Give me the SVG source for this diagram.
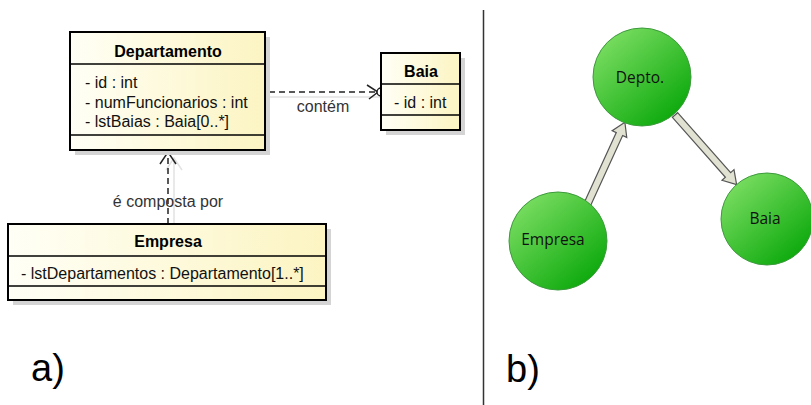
<svg xmlns="http://www.w3.org/2000/svg" width="811" height="405" viewBox="0 0 811 405">
<defs>
<linearGradient id="boxfill" x1="0" y1="0" x2="1" y2="0">
<stop offset="0" stop-color="#fffff6"/>
<stop offset="1" stop-color="#fcf4c2"/>
</linearGradient>
<linearGradient id="green" x1="0.15" y1="0.1" x2="0.85" y2="0.9">
<stop offset="0" stop-color="#78dc60"/>
<stop offset="1" stop-color="#0ca90c"/>
</linearGradient>
</defs>
<style>
.box{fill:url(#boxfill);stroke:#000;stroke-width:2}
.shadow{fill:#d4d4d4}
.sep{stroke:#000;stroke-width:1.5}
.title{font-family:"Liberation Sans",Arial,sans-serif;font-size:16px;font-weight:bold;fill:#000;text-anchor:middle}
.attr{font-family:"Liberation Sans",Arial,sans-serif;font-size:16px;fill:#111}
.lbl{font-family:"Liberation Sans",Arial,sans-serif;font-size:16px;fill:#333;text-anchor:middle}
.dash{stroke:#222;stroke-width:1.5;stroke-dasharray:6 4;fill:none}
.head{stroke:#222;stroke-width:1.5;fill:none}
.ghost{stroke:#e2e2e2;stroke-width:1.5;fill:none}
.node{fill:url(#green);stroke:#3c9a3c;stroke-width:1}
.ntext{font-family:"Open Sans","Noto Sans",sans-serif;font-size:15.5px;fill:#111;text-anchor:middle}
.barrow{fill:#e2e2d2;stroke:#555;stroke-width:1.2;stroke-linejoin:miter}
.big{font-family:"Liberation Sans",Arial,sans-serif;font-size:38px;fill:#000}
</style>
<rect width="811" height="405" fill="#fff"/>

<line x1="483.5" y1="10" x2="483.5" y2="405" stroke="#333" stroke-width="1.5"/>

<g id="connectors">
<line class="ghost" x1="270" y1="97" x2="386" y2="97"/>
<line class="ghost" x1="174" y1="232" x2="174" y2="158"/>
<polyline class="ghost" points="166,170 174,158 182,170"/>
<circle cx="265" cy="92" r="4" fill="#fff" stroke="#222" stroke-width="1.5"/>
<line class="dash" x1="269" y1="92" x2="377" y2="92"/>
<polyline class="head" points="367,85 378,92 369,99"/>
<circle cx="381" cy="92" r="4" fill="#fff" stroke="#222" stroke-width="1.5"/>
<text class="lbl" x="323" y="112">contém</text>
<line class="dash" x1="168" y1="224" x2="168" y2="153"/>
<polyline class="head" points="160,164 168,152 176,164"/>
<text class="lbl" x="168" y="207">é composta por</text>
</g>

<g id="departamento">
<rect class="shadow" x="75" y="37" width="195" height="118"/>
<rect class="box" x="70" y="32" width="195" height="118"/>
<line class="sep" x1="70" y1="64" x2="265" y2="64"/>
<line class="sep" x1="70" y1="135" x2="265" y2="135"/>
<text class="title" x="168" y="57">Departamento</text>
<text class="attr" x="85" y="88">- id : int</text>
<text class="attr" x="85" y="108">- numFuncionarios : int</text>
<text class="attr" x="85" y="127">- lstBaias : Baia[0..*]</text>
</g>

<g id="baia">
<rect class="shadow" x="386" y="58" width="79" height="77"/>
<rect class="box" x="381" y="53" width="79" height="77"/>
<line class="sep" x1="381" y1="84" x2="460" y2="84"/>
<line class="sep" x1="381" y1="115" x2="460" y2="115"/>
<text class="title" x="421" y="77">Baia</text>
<text class="attr" x="394" y="108">- id : int</text>
</g>

<g id="empresa">
<rect class="shadow" x="13" y="229" width="318" height="76"/>
<rect class="box" x="8" y="224" width="318" height="76"/>
<line class="sep" x1="8" y1="256" x2="326" y2="256"/>
<line class="sep" x1="8" y1="286" x2="326" y2="286"/>
<text class="title" x="168" y="247">Empresa</text>
<text class="attr" x="21" y="279">- lstDepartamentos : Departamento[1..*]</text>
</g>

<g id="graph-connectors">
<polygon class="barrow" transform="translate(587,205) rotate(-65.4)" points="0,-3.5 78,-3.5 78,-8 91,0 78,8 78,3.5 0,3.5"/>
<polygon class="barrow" transform="translate(675,115) rotate(48.5)" points="0,-3.5 80,-3.5 80,-8 93,0 80,8 80,3.5 0,3.5"/>
</g>

<g id="node-depto">
<circle class="node" cx="642" cy="77" r="49"/>
<text class="ntext" x="640" y="83">Depto.</text>
</g>
<g id="node-empresa">
<circle class="node" cx="558" cy="241" r="49"/>
<text class="ntext" x="553" y="245">Empresa</text>
</g>
<g id="node-baia">
<circle class="node" cx="767" cy="219" r="46"/>
<text class="ntext" x="765" y="224">Baia</text>
</g>

<text class="big" x="31" y="381">a)</text>
<text class="big" x="506" y="382">b)</text>
</svg>
